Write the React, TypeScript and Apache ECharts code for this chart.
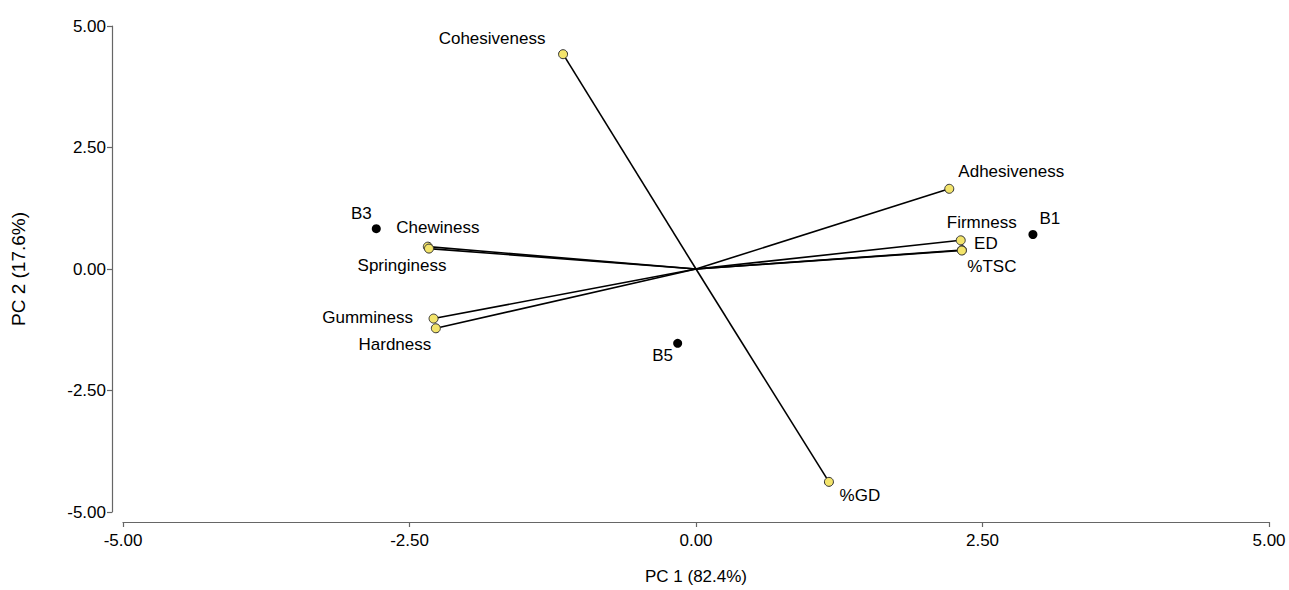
import React, { useEffect, useRef } from "react";
import * as echarts from "echarts";

const varNames = ["Cohesiveness", "Adhesiveness", "Firmness", "ED", "%TSC", "%GD", "Chewiness", "Springiness", "Gumminess", "Hardness"];
const varX = [-1.16, 2.21, 2.31, 2.32, 2.32, 1.16, -2.34, -2.33, -2.29, -2.27];
const varY = [4.42, 1.65, 0.59, 0.39, 0.38, -4.38, 0.46, 0.42, -1.02, -1.22];
const varLabelOffsets: [number, number][] = [
  [-71, -16], [62, -17], [21, -18], [24, -7], [30, 16], [31, 14], [10, -19], [-27, 17], [-66, -1], [-41, 16],
];

const sampleNames = ["B1", "B3", "B5"];
const sampleX = [2.94, -2.79, -0.16];
const sampleY = [0.71, 0.83, -1.53];
const sampleLabelOffsets: [number, number][] = [[17, -16], [-15, -15], [-15, 12]];

const axisTicks = [-5, -2.5, 0, 2.5, 5];

const FONT = "Liberation Sans, Arial, sans-serif";

export default function App() {
  const ref = useRef<HTMLDivElement>(null);
  useEffect(() => {
    if (!ref.current) return;
    const chart = echarts.init(ref.current, null, { renderer: "svg" });
    const lineSeries = varNames.map((n, i) => ({
      type: "line",
      name: n + "-vec",
      data: [[0, 0], [varX[i], varY[i]]],
      symbol: "none",
      lineStyle: { color: "#000", width: 1.6 },
      silent: true,
      z: 2,
    }));
    const axisCommon = {
      min: axisTicks[0],
      max: axisTicks[axisTicks.length - 1],
      interval: 2.5,
      splitLine: { show: false },
      axisLine: { show: true, onZero: false, lineStyle: { color: "#666", width: 1.2 } },
      axisTick: { show: true, inside: false, length: 5, lineStyle: { color: "#666", width: 1.2 } },
      axisLabel: { color: "#000", fontSize: 17, fontFamily: FONT, formatter: (v: number) => v.toFixed(2) },
      nameLocation: "middle",
      nameTextStyle: { color: "#000", fontSize: 17, fontFamily: FONT },
    };
    chart.setOption({
      animation: false,
      backgroundColor: "#fff",
      grid: { left: 123, right: 20, top: 26, bottom: 77 },
      xAxis: {
        ...axisCommon,
        type: "value",
        offset: 10,
        name: "PC 1 (82.4%)",
        nameGap: 46,
        axisLabel: { ...axisCommon.axisLabel, margin: 10 },
      },
      yAxis: {
        ...axisCommon,
        type: "value",
        offset: 11,
        name: "PC 2 (17.6%)",
        nameGap: 84,
        nameTextStyle: { color: "#000", fontSize: 19, fontFamily: FONT },
        axisLabel: { ...axisCommon.axisLabel, margin: 6 },
      },
      series: [
        ...lineSeries,
        {
          type: "scatter",
          name: "variables",
          z: 3,
          symbol: "circle",
          symbolSize: 9,
          itemStyle: { color: "#f3e46b", borderColor: "#333", borderWidth: 1, opacity: 1 },
          data: varNames.map((n, i) => ({
            name: n,
            value: [varX[i], varY[i]],
            label: {
              show: true,
              position: "inside",
              offset: varLabelOffsets[i],
              formatter: n,
              color: "#000",
              fontSize: 17,
              fontFamily: FONT,
            },
          })),
        },
        {
          type: "scatter",
          name: "samples",
          z: 3,
          symbol: "circle",
          symbolSize: 9,
          itemStyle: { color: "#000", opacity: 1 },
          data: sampleNames.map((n, i) => ({
            name: n,
            value: [sampleX[i], sampleY[i]],
            label: {
              show: true,
              position: "inside",
              offset: sampleLabelOffsets[i],
              formatter: n,
              color: "#000",
              fontSize: 17,
              fontFamily: FONT,
            },
          })),
        },
      ],
    });
    return () => chart.dispose();
  }, []);
  return <div ref={ref} style={{ position: "absolute", left: 0, top: 0, width: 1289, height: 590 }} />;
}
